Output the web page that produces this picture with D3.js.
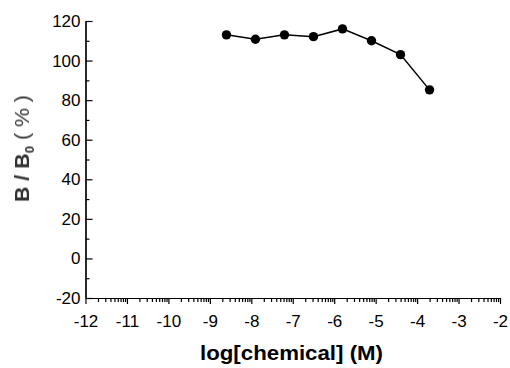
<!DOCTYPE html>
<html>
<head>
<meta charset="utf-8">
<script src="https://cdn.jsdelivr.net/npm/d3@7"></script>
<style>
  body { margin: 0; background: #fff; }
  svg { display: block; }
  .axis text { font-family: "Liberation Sans", Arial, sans-serif; font-size: 17px; fill: #000; }
  .axis path, .axis line { stroke: #000; stroke-width: 1.2; }
</style>
</head>
<body>
<div id="chart"></div>
<script>
// log concentration (M) and % bound
const logConc = [-8.6, -7.9, -7.2, -6.5, -5.8, -5.1, -4.4, -3.7];
const bound = [113, 110.8, 113, 112.1, 116, 110, 103, 85.2];

const xTicks = d3.range(-12, -1, 1);
const yTicks = d3.range(-20, 121, 20);
const yMinorTicks = d3.range(-10, 120, 20);

const width = 510;
const height = 368;

// minor ticks at log positions inside each decade
const xMinorTicks = [];
xTicks.slice(0, -1).forEach((t) => {
  for (let k = 2; k <= 9; k++) xMinorTicks.push(t + Math.log10(k));
});

const fmt = (d) => String(d); // plain hyphen minus, like the original

const xScale = d3.scaleLinear().domain([-12, -2]).range([85.5, 500]);
const yScale = d3.scaleLinear().domain([-20, 120]).range([298, 21]);

const svg = d3
  .select("#chart")
  .append("svg")
  .attr("width", width)
  .attr("height", height);

svg.append("defs")
  .append("filter")
  .attr("id", "soft")
  .append("feGaussianBlur")
  .attr("stdDeviation", 0.55);

// x axis
svg
  .append("g")
  .attr("class", "axis")
  .attr("transform", `translate(0, ${yScale(-20)})`)
  .call(d3.axisBottom(xScale).tickValues(xMinorTicks).tickSize(4).tickSizeOuter(0).tickFormat(""));

svg
  .append("g")
  .attr("class", "axis")
  .attr("transform", `translate(0, ${yScale(-20)})`)
  .call(d3.axisBottom(xScale).tickValues(xTicks).tickSize(6).tickSizeOuter(0).tickPadding(11).tickFormat(fmt));

// y axis, ticks point inward
svg
  .append("g")
  .attr("class", "axis")
  .attr("transform", `translate(${xScale(-12)}, 0)`)
  .call(d3.axisLeft(yScale).tickValues(yMinorTicks).tickSize(-4).tickSizeOuter(0).tickFormat(""));

svg
  .append("g")
  .attr("class", "axis")
  .attr("transform", `translate(${xScale(-12)}, 0)`)
  .call(d3.axisLeft(yScale).tickValues(yTicks).tickSize(-7).tickSizeOuter(0).tickPadding(5).tickFormat(fmt));

const points = logConc.map((x, i) => ({ x, y: bound[i] }));

const line = d3
  .line()
  .x((d) => xScale(d.x))
  .y((d) => yScale(d.y));

svg
  .append("path")
  .attr("d", line(points))
  .attr("fill", "none")
  .attr("stroke", "#000")
  .attr("stroke-width", 1.5);

svg
  .selectAll(".dot")
  .data(points)
  .join("circle")
  .attr("class", "dot")
  .attr("cx", (d) => xScale(d.x))
  .attr("cy", (d) => yScale(d.y))
  .attr("r", 4.7)
  .attr("fill", "#000");

// axis titles
svg
  .append("text")
  .attr("x", 291.5)
  .attr("y", 360)
  .attr("text-anchor", "middle")
  .attr("textLength", 183)
  .attr("lengthAdjust", "spacingAndGlyphs")
  .style("font-family", "'Liberation Sans', Arial, sans-serif")
  .style("font-weight", "bold")
  .style("font-size", "21px")
  .text("log[chemical] (M)");

const yTitle = svg
  .append("text")
  .attr("transform", "translate(29, 148.5) rotate(-90)")
  .attr("text-anchor", "middle")
  .attr("textLength", 107)
  .attr("lengthAdjust", "spacingAndGlyphs")
  .attr("filter", "url(#soft)")
  .style("font-family", "'Liberation Sans', Arial, sans-serif")
  .style("font-weight", "bold")
  .style("font-size", "21px")
  .style("fill", "#333");

yTitle.append("tspan").text("B / B");
yTitle.append("tspan").attr("dy", 5).style("font-size", "13px").text("0");
yTitle.append("tspan").attr("dy", -5).style("font-weight", "normal").text(" ( % )");
</script>
</body>
</html>
